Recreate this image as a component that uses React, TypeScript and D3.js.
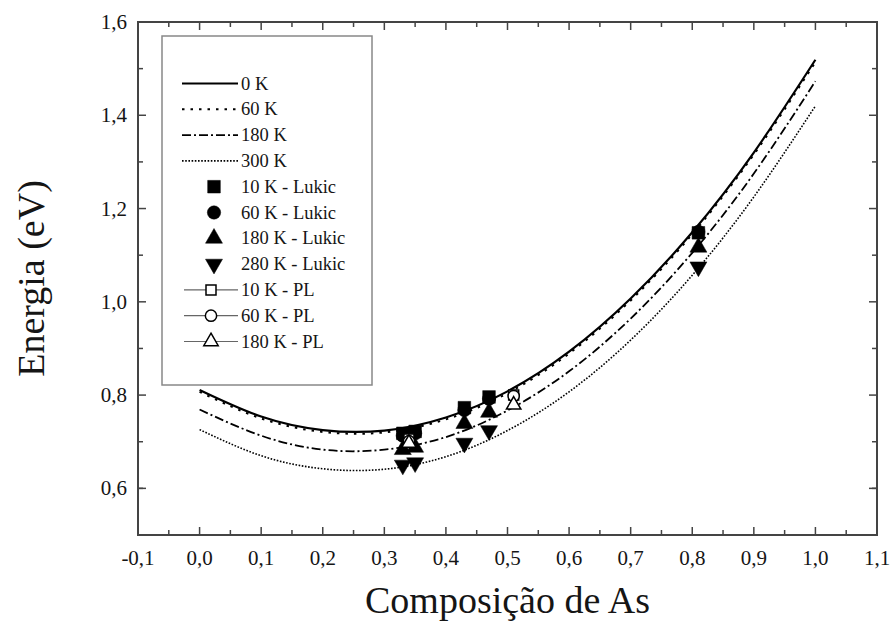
import React from "react";
import * as d3 from "d3";

const compGrid = [0, 0.1, 0.2, 0.3, 0.4, 0.5, 0.6, 0.7, 0.8, 0.9, 1.0];
const curve0K = [0.811, 0.754, 0.725, 0.724, 0.752, 0.808, 0.893, 1.007, 1.149, 1.32, 1.519];
const curve60K = [0.807, 0.75, 0.721, 0.72, 0.748, 0.804, 0.889, 1.003, 1.145, 1.316, 1.514];
const curve180K = [0.769, 0.713, 0.683, 0.683, 0.71, 0.767, 0.851, 0.964, 1.105, 1.275, 1.473];
const curve300K = [0.726, 0.67, 0.642, 0.641, 0.668, 0.724, 0.807, 0.918, 1.057, 1.225, 1.42];

// measured points [composition, energy]
const lukic10K = [[0.33, 0.718], [0.35, 0.722], [0.43, 0.773], [0.47, 0.796], [0.81, 1.148]];
const lukic60K = [[0.33, 0.713], [0.35, 0.718], [0.43, 0.768], [0.47, 0.792], [0.81, 1.15]];
const lukic180K = [[0.33, 0.683], [0.35, 0.688], [0.43, 0.739], [0.47, 0.763], [0.81, 1.117]];
const lukic280K = [[0.33, 0.65], [0.35, 0.655], [0.43, 0.697], [0.47, 0.724], [0.81, 1.075]];
const pl10K = [[0.34, 0.706], [0.51, 0.8]];
const pl60K = [[0.34, 0.701], [0.51, 0.798]];
const pl180K = [[0.34, 0.697], [0.51, 0.779]];

const xTicks = [-0.1, 0, 0.1, 0.2, 0.3, 0.4, 0.5, 0.6, 0.7, 0.8, 0.9, 1.0, 1.1];
const yTicks = [0.6, 0.8, 1.0, 1.2, 1.4, 1.6];

const W = 893;
const H = 630;
const margin = { top: 22, right: 16, bottom: 95, left: 138 };
const FRAME = "#444";
const SERIF = "Liberation Serif";
const INK = "#151515";

const fmt = d3.formatLocale({ decimal: ",", thousands: ".", grouping: [3], currency: ["", ""] }).format(".1f");

const App = () => {
  const x = d3.scaleLinear().domain([-0.1, 1.1]).range([margin.left, W - margin.right]);
  const y = d3.scaleLinear().domain([0.5, 1.6]).range([H - margin.bottom, margin.top]);
  const x0 = x.range()[0], x1 = x.range()[1];
  const y0 = y.range()[0], y1 = y.range()[1];

  const line = d3
    .line<number>()
    .x((_, i) => x(compGrid[i]))
    .y((d) => y(d))
    .curve(d3.curveNatural);

  const curves = [
    { name: "0 K", values: curve0K, dash: null, width: 2.2 },
    { name: "60 K", values: curve60K, dash: "2.5,6", width: 2 },
    { name: "180 K", values: curve180K, dash: "9,3,2,3", width: 1.8 },
    { name: "300 K", values: curve300K, dash: "1.6,1.6", width: 1.6 },
  ];

  const sym = (type: any, size: number) => d3.symbol().type(type).size(size)() as string;
  const square = sym(d3.symbolSquare, 160);
  const circle = sym(d3.symbolCircle, 140);
  const tri = sym(d3.symbolTriangle, 125);
  const oSquare = sym(d3.symbolSquare, 100);
  const oCircle = sym(d3.symbolCircle, 100);
  const oTri = sym(d3.symbolTriangle, 90);

  const pointSets = [
    { name: "10 K - Lukic", data: lukic10K, path: square, rot: 0, open: false },
    { name: "60 K - Lukic", data: lukic60K, path: circle, rot: 0, open: false },
    { name: "180 K - Lukic", data: lukic180K, path: tri, rot: 0, open: false },
    { name: "280 K - Lukic", data: lukic280K, path: tri, rot: 180, open: false },
    { name: "10 K - PL", data: pl10K, path: oSquare, rot: 0, open: true },
    { name: "60 K - PL", data: pl60K, path: oCircle, rot: 0, open: true },
    { name: "180 K - PL", data: pl180K, path: oTri, rot: 0, open: true },
  ];

  const xMinor = xTicks.slice(0, -1).map((t) => t + 0.05);
  const yMinor = [0.5, ...yTicks].slice(0, -1).map((t) => t + 0.1);

  const legendY = (i: number) => 83.5 + i * 25.8;

  return (
    <svg width={W} height={H} style={{ position: "absolute", left: 0, top: 0, background: "#fff" }}>
      <rect width={W} height={H} fill="#fff" />

      {/* curves */}
      {curves.map((c) => (
        <path
          key={c.name}
          d={line(c.values) as string}
          fill="none"
          stroke="#000"
          strokeWidth={c.width}
          strokeDasharray={c.dash ?? undefined}
        />
      ))}

      {/* points */}
      {pointSets.map((s) =>
        s.data.map((d, i) => (
          <path
            key={s.name + i}
            d={s.path}
            transform={`translate(${x(d[0])},${y(d[1])}) rotate(${s.rot})`}
            fill={s.open ? "#fff" : "#000"}
            stroke="#000"
            strokeWidth={s.open ? 1.5 : 0.5}
          />
        ))
      )}

      {/* frame and ticks */}
      <rect x={x0} y={y1} width={x1 - x0} height={y0 - y1} fill="none" stroke={FRAME} strokeWidth={2} />
      {xTicks.map((t) => (
        <g key={"xt" + t} stroke={FRAME} strokeWidth={1.5}>
          <line x1={x(t)} x2={x(t)} y1={y0} y2={y0 - 8} />
          <line x1={x(t)} x2={x(t)} y1={y1} y2={y1 + 8} />
        </g>
      ))}
      {xMinor.map((t) => (
        <g key={"xm" + t} stroke={FRAME} strokeWidth={1.5}>
          <line x1={x(t)} x2={x(t)} y1={y0} y2={y0 - 5} />
          <line x1={x(t)} x2={x(t)} y1={y1} y2={y1 + 5} />
        </g>
      ))}
      {yTicks.map((t) => (
        <g key={"yt" + t} stroke={FRAME} strokeWidth={1.5}>
          <line x1={x0} x2={x0 + 8} y1={y(t)} y2={y(t)} />
          <line x1={x1} x2={x1 - 8} y1={y(t)} y2={y(t)} />
        </g>
      ))}
      {yMinor.map((t) => (
        <g key={"ym" + t} stroke={FRAME} strokeWidth={1.5}>
          <line x1={x0} x2={x0 + 5} y1={y(t)} y2={y(t)} />
          <line x1={x1} x2={x1 - 5} y1={y(t)} y2={y(t)} />
        </g>
      ))}

      {/* tick labels */}
      {xTicks.map((t) => (
        <text key={"xl" + t} x={x(t)} y={y0 + 30} textAnchor="middle" fontFamily={SERIF} fontSize={21} fill={INK}>
          {fmt(t).replace("\u2212", "-")}
        </text>
      ))}
      {yTicks.map((t) => (
        <text key={"yl" + t} x={x0 - 11} y={y(t) + 7} textAnchor="end" fontFamily={SERIF} fontSize={21} fill={INK}>
          {fmt(t)}
        </text>
      ))}

      {/* axis titles */}
      <text x={(x0 + x1) / 2} y={613} textAnchor="middle" fontFamily={SERIF} fontSize={38} fill={INK}>
        Composição de As
      </text>
      <text
        transform={`translate(44,${(y0 + y1) / 2}) rotate(-90)`}
        textAnchor="middle"
        fontFamily={SERIF}
        fontSize={38}
        fill={INK}
      >
        Energia (eV)
      </text>

      {/* legend */}
      <rect x={162} y={36} width={210} height={349} fill="#fff" stroke="#888" strokeWidth={1.5} />
      {curves.map((c, i) => (
        <g key={"lc" + c.name}>
          <line
            x1={182}
            x2={238}
            y1={legendY(i)}
            y2={legendY(i)}
            stroke="#000"
            strokeWidth={c.width}
            strokeDasharray={c.dash ?? undefined}
          />
          <text x={241} y={legendY(i) + 6} fontFamily={SERIF} fontSize={18.5} fill={INK}>
            {c.name}
          </text>
        </g>
      ))}
      {pointSets.map((s, j) => {
        const i = j + curves.length;
        const ly = legendY(i);
        return (
          <g key={"lp" + s.name}>
            {s.open && <line x1={184} x2={238} y1={ly} y2={ly} stroke="#666" strokeWidth={1.2} />}
            <path
              d={s.path}
              transform={`translate(${s.open ? 211 : 214},${ly}) rotate(${s.rot})`}
              fill={s.open ? "#fff" : "#000"}
              stroke="#000"
              strokeWidth={s.open ? 1.5 : 0.5}
            />
            <text x={241} y={ly + 6} fontFamily={SERIF} fontSize={18.5} fill={INK}>
              {s.name}
            </text>
          </g>
        );
      })}
    </svg>
  );
};

export default App;
